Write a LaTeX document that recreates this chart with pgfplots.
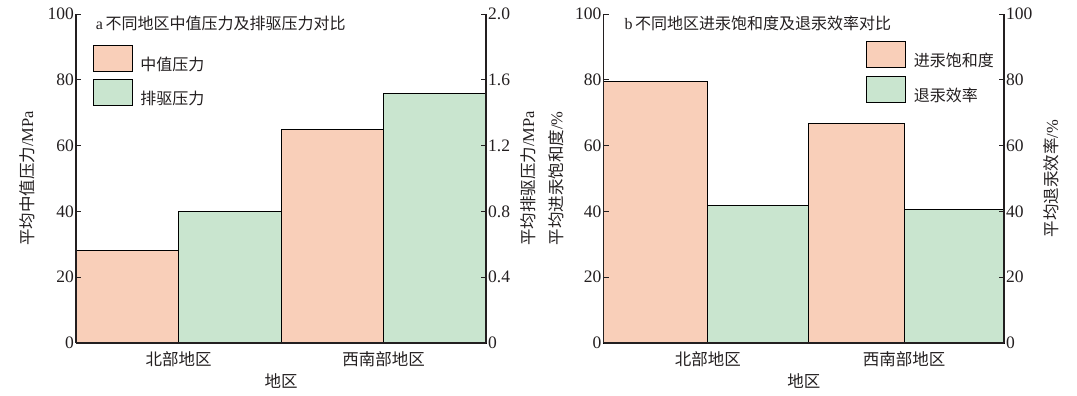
\documentclass[border=0pt]{standalone}
\usepackage{pgfplots}
\pgfplotsset{compat=1.18}
\usepackage{fontspec}
\setmainfont{Liberation Serif}
\newfontfamily\cjk{Noto Sans CJK SC}
\definecolor{pk}{HTML}{F9CFB9}
\definecolor{gn}{HTML}{C9E5CF}
\definecolor{ax}{HTML}{231F20}
\definecolor{tx}{HTML}{231F20}
\pgfplotsset{
 base/.style={
  scale only axis, height=329pt, ymin=0, ymax=100, xmin=0, xmax=4,
  axis on top,
  axis line style={-, draw=ax, line width=1.2pt},
  tick align=inside, major tick length=5pt,
  tick style={draw=ax, line width=0.9pt},
  /pgf/number format/assume math mode=true,
  tick label style={font=\fontsize{17.5}{20}\selectfont, text=tx},
  xticklabel style={font=\fontsize{16.5}{20}\selectfont, yshift=-5pt},
  label style={font=\fontsize{16.5}{20}\selectfont, text=tx},
  ytick={0,20,40,60,80,100},
  yticklabel style={inner sep=2pt},
  clip=false,
 },
 bars/.style={ybar interval, draw=black, line width=0.8pt},
}
\begin{document}
\begin{tikzpicture}
\useasboundingbox (0,0) rectangle (1077pt,396pt);
% ---------- chart a ----------
\begin{axis}[base, at={(76pt,53pt)}, anchor=south west, width=410pt,
 axis y line*=left, axis x line*=bottom,
 xtick={1,3}, xticklabels={{\cjk 北部地区},{\cjk 西南部地区}},
 x tick style={draw=none},
 xlabel={\cjk 地区},
 ylabel={{\cjk 平均中值压力}/MPa},
 ylabel style={at={(axis description cs:-0.1195,0.5)}, anchor=center},
]
\addplot[bars, fill=pk, forget plot] coordinates {(0,28.0) (1,28.0)};
\addplot[bars, fill=pk, forget plot] coordinates {(2,65.0) (3,65.0)};
\node[anchor=west, font=\fontsize{16}{19}\selectfont, text=tx] at (axis description cs:0.04,0.971) {a\,{\cjk 不同地区中值压力及排驱压力对比}};
\end{axis}
\begin{axis}[base, at={(76pt,53pt)}, anchor=south west, width=410pt,
 ymin=0, ymax=2, ytick={0,0.4,0.8,1.2,1.6,2.0}, yticklabels={0,0.4,0.8,1.2,1.6,2.0},
 axis y line*=right, axis x line*=bottom, xtick=\empty,
 ylabel={{\cjk 平均排驱压力}/MPa},
 ylabel style={at={(axis description cs:1.1024,0.5)}, anchor=center},
 legend style={at={(axis description cs:0.0398,0.906)}, anchor=north west, draw=none, fill=none,
   inner sep=0pt, row sep=7pt, column sep=8pt,
   nodes={inner sep=0pt, font=\fontsize{16}{19}\selectfont, text=tx}},
 legend cell align=left,
 legend image code/.code={\draw[#1, draw=black, line width=0.8pt] (0pt,-7pt) rectangle (39pt,19pt);},
]
\addlegendimage{fill=pk}
\addlegendentry{\cjk 中值压力}
\addplot[bars, fill=gn, forget plot] coordinates {(1,0.80) (2,0.80)};
\addplot[bars, fill=gn, forget plot] coordinates {(3,1.515) (4,1.515)};
\addlegendimage{fill=gn}
\addlegendentry{\cjk 排驱压力}
\end{axis}
% ---------- chart b ----------
\begin{axis}[base, at={(603.5pt,53pt)}, anchor=south west, width=400.5pt,
 axis y line*=left, axis x line*=bottom,
 xtick={1.042,3.002}, xticklabels={{\cjk 北部地区},{\cjk 西南部地区}},
 x tick style={draw=none},
 xlabel={\cjk 地区},
 ylabel={{\cjk 平均进汞饱和度}/\%},
 ylabel style={at={(axis description cs:-0.1186,0.5)}, anchor=center},
]
\addplot[bars, fill=pk, forget plot] coordinates {(0,79.5) (1.042,79.5)};
\addplot[bars, fill=pk, forget plot] coordinates {(2.044,66.8) (3.002,66.8)};
\node[anchor=west, font=\fontsize{16}{19}\selectfont, text=tx] at (axis description cs:0.0437,0.971) {b\,{\cjk 不同地区进汞饱和度及退汞效率对比}};
\end{axis}
\begin{axis}[base, at={(603.5pt,53pt)}, anchor=south west, width=400.5pt,
 axis y line*=right, axis x line*=bottom, xtick=\empty,
 ylabel={{\cjk 平均退汞效率}/\%},
 ylabel style={at={(axis description cs:1.1186,0.5)}, anchor=center},
 legend style={at={(axis description cs:0.6554,0.917)}, anchor=north west, draw=none, fill=none,
   inner sep=0pt, row sep=8pt, column sep=8pt,
   nodes={inner sep=0pt, font=\fontsize{16}{19}\selectfont, text=tx}},
 legend cell align=left,
 legend image code/.code={\draw[#1, draw=black, line width=0.8pt] (0pt,-7pt) rectangle (39pt,19pt);},
]
\addlegendimage{fill=pk}
\addlegendentry{\cjk 进汞饱和度}
\addplot[bars, fill=gn, forget plot] coordinates {(1.042,41.8) (2.044,41.8)};
\addplot[bars, fill=gn, forget plot] coordinates {(3.002,40.6) (4,40.6)};
\addlegendimage{fill=gn}
\addlegendentry{\cjk 退汞效率}
\end{axis}
\end{tikzpicture}
\end{document}
